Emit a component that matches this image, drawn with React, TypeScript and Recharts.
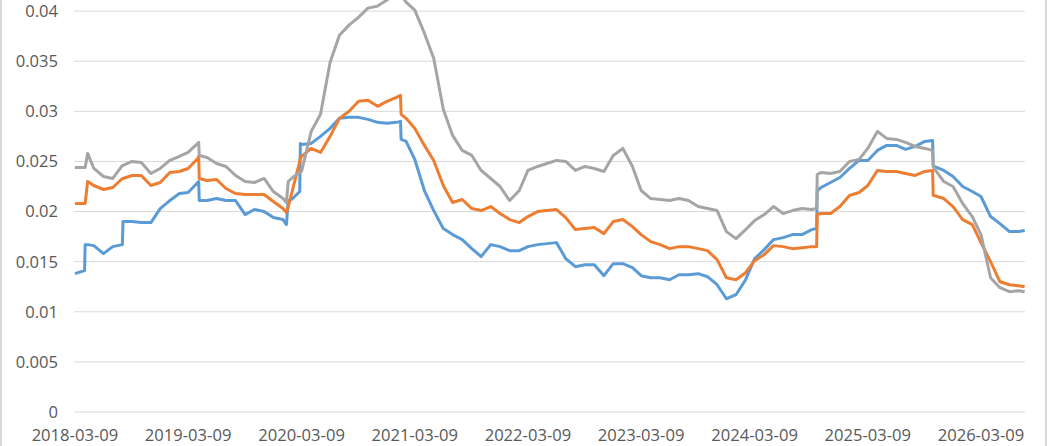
import React from "react";
import { LineChart, Line, XAxis, YAxis, CartesianGrid } from "recharts";

const dates: string[] = [
  "2018-03-09","2018-04-09","2018-04-11","2018-04-19","2018-05-09","2018-06-09","2018-07-09","2018-08-09","2018-08-11","2018-09-09","2018-10-09","2018-11-09","2018-12-09",
  "2019-01-09","2019-02-09","2019-03-09","2019-04-09","2019-04-12","2019-04-14","2019-05-09","2019-06-09","2019-07-09","2019-08-09","2019-09-09","2019-10-09","2019-11-09","2019-12-09",
  "2020-01-09","2020-01-20","2020-01-26","2020-02-09","2020-03-03","2020-03-05","2020-03-09","2020-04-09","2020-05-09","2020-06-09","2020-07-09","2020-08-09","2020-09-09","2020-10-09","2020-11-09","2020-12-09",
  "2021-01-09","2021-01-22","2021-01-24","2021-02-09","2021-03-09","2021-04-09","2021-05-09","2021-06-09","2021-07-09","2021-08-09","2021-09-09","2021-10-09","2021-11-09","2021-12-09",
  "2022-01-09","2022-02-09","2022-03-09","2022-04-09","2022-05-09","2022-06-09","2022-07-09","2022-08-09","2022-09-09","2022-10-09","2022-11-09","2022-12-09",
  "2023-01-09","2023-02-09","2023-03-09","2023-04-09","2023-05-09","2023-06-09","2023-07-09","2023-08-09","2023-09-09","2023-10-09","2023-11-09","2023-12-09",
  "2024-01-09","2024-02-09","2024-03-09","2024-04-09","2024-05-09","2024-06-09","2024-07-09","2024-08-09","2024-09-09","2024-09-25","2024-09-27","2024-10-09","2024-11-09","2024-12-09",
  "2025-01-09","2025-02-09","2025-03-09","2025-04-09","2025-05-09","2025-06-09","2025-07-09","2025-08-09","2025-09-09","2025-10-04","2025-10-06","2025-10-09","2025-11-09","2025-12-09",
  "2026-01-09","2026-02-09","2026-03-09","2026-04-09","2026-05-09","2026-06-09","2026-07-09","2026-07-28",
];

const blueSeries: number[] = [
  0.0138,0.0141,0.0167,0.0167,0.0166,0.0158,0.0165,0.0167,0.0190,0.0190,0.0189,0.0189,0.0203,
  0.0211,0.0218,0.0219,0.0229,0.0230,0.0211,0.0211,0.0213,0.0211,0.0211,0.0197,0.0202,0.0200,0.0194,
  0.0192,0.0187,0.0211,0.0213,0.0220,0.0268,0.0267,0.0268,0.0275,0.0283,0.0293,0.0294,0.0294,0.0292,0.0289,0.0288,
  0.0289,0.0290,0.0272,0.0270,0.0252,0.0221,0.0201,0.0183,0.0177,0.0172,0.0163,0.0155,0.0167,0.0165,
  0.0161,0.0161,0.0165,0.0167,0.0168,0.0169,0.0153,0.0145,0.0147,0.0147,0.0136,0.0148,
  0.0148,0.0144,0.0136,0.0134,0.0134,0.0132,0.0137,0.0137,0.0138,0.0135,0.0127,0.0113,
  0.0117,0.0132,0.0153,0.0162,0.0172,0.0174,0.0177,0.0177,0.0182,0.0183,0.0221,0.0224,0.0229,0.0234,
  0.0243,0.0251,0.0251,0.0261,0.0266,0.0266,0.0262,0.0265,0.0270,0.0271,0.0245,0.0245,0.0241,0.0235,
  0.0225,0.0220,0.0215,0.0195,0.0188,0.0180,0.0180,0.0181,
];

const orangeSeries: number[] = [
  0.0208,0.0208,0.0208,0.0230,0.0226,0.0222,0.0224,0.0233,0.0233,0.0236,0.0236,0.0226,0.0229,
  0.0239,0.0240,0.0243,0.0253,0.0255,0.0233,0.0231,0.0232,0.0223,0.0218,0.0217,0.0217,0.0217,0.0210,
  0.0203,0.0199,0.0205,0.0222,0.0250,0.0253,0.0255,0.0263,0.0259,0.0275,0.0293,0.0300,0.0310,0.0311,0.0305,0.0310,
  0.0314,0.0316,0.0297,0.0293,0.0283,0.0266,0.0251,0.0226,0.0209,0.0212,0.0203,0.0201,0.0205,0.0198,
  0.0192,0.0189,0.0195,0.0200,0.0201,0.0202,0.0194,0.0182,0.0183,0.0184,0.0178,0.0190,
  0.0192,0.0185,0.0177,0.0170,0.0167,0.0163,0.0165,0.0165,0.0163,0.0161,0.0152,0.0134,
  0.0132,0.0139,0.0151,0.0157,0.0166,0.0165,0.0163,0.0164,0.0165,0.0165,0.0197,0.0198,0.0198,0.0205,
  0.0216,0.0219,0.0226,0.0241,0.0240,0.0240,0.0238,0.0236,0.0240,0.0241,0.0216,0.0216,0.0213,0.0205,
  0.0192,0.0187,0.0169,0.0150,0.0130,0.0127,0.0126,0.0125,
];

const graySeries: number[] = [
  0.0244,0.0244,0.0244,0.0258,0.0243,0.0235,0.0233,0.0246,0.0246,0.0250,0.0249,0.0238,0.0243,
  0.0251,0.0255,0.0259,0.0268,0.0269,0.0256,0.0254,0.0248,0.0245,0.0236,0.0230,0.0229,0.0233,0.0220,
  0.0213,0.0209,0.0230,0.0234,0.0239,0.0240,0.0240,0.0280,0.0297,0.0349,0.0376,0.0386,0.0394,0.0403,0.0405,0.0411,
  0.0418,0.0418,0.0416,0.0409,0.0401,0.0378,0.0353,0.0302,0.0276,0.0261,0.0256,0.0241,0.0233,0.0225,
  0.0211,0.0221,0.0241,0.0245,0.0248,0.0251,0.0250,0.0241,0.0245,0.0243,0.0240,0.0256,
  0.0263,0.0245,0.0221,0.0213,0.0212,0.0211,0.0213,0.0211,0.0205,0.0203,0.0201,0.0180,
  0.0173,0.0182,0.0191,0.0197,0.0205,0.0198,0.0201,0.0203,0.0202,0.0203,0.0237,0.0239,0.0238,0.0240,
  0.0250,0.0252,0.0263,0.0280,0.0273,0.0272,0.0269,0.0265,0.0263,0.0261,0.0246,0.0243,0.0230,0.0225,
  0.0208,0.0195,0.0177,0.0134,0.0124,0.0120,0.0121,0.0120,
];

const xTickLabels: string[] = [
  "2018-03-09","2019-03-09","2020-03-09","2021-03-09","2022-03-09",
  "2023-03-09","2024-03-09","2025-03-09","2026-03-09",
];

const yTicks: number[] = [0, 0.005, 0.01, 0.015, 0.02, 0.025, 0.03, 0.035, 0.04];

const toTime = (s: string) => Date.parse(s + "T00:00:00Z");

const data = dates.map((d, i) => ({
  t: toTime(d),
  a: blueSeries[i],
  b: orangeSeries[i],
  c: graySeries[i],
}));

const xTicks = xTickLabels.map(toTime);
const xDomain = [toTime("2018-03-06"), toTime("2026-07-29")];

const fmtDate = (t: number) => new Date(t).toISOString().slice(0, 10);

const tickStyle = { fontFamily: "'Open Sans'", fontSize: 16.6, fill: "#595959" };

export default function App() {
  return (
    <div style={{ position: "absolute", left: 0, top: 0, width: 1048, height: 446, overflow: "hidden", background: "#fff" }}>
      <div
        style={{
          position: "absolute",
          left: 0,
          top: 0,
          width: 1043,
          height: 446,
          borderLeft: "2px solid #d9d9d9",
          borderRight: "2px solid #d9d9d9",
        }}
      />
      <div style={{ position: "absolute", left: 0, top: -50 }}>
        <LineChart width={1048} height={520} data={data} margin={{ top: 11, right: 23, bottom: 28, left: 14 }}>
          <CartesianGrid vertical={false} stroke="#d9d9d9" strokeWidth={1} />
          <XAxis
            dataKey="t"
            type="number"
            scale="time"
            domain={xDomain}
            ticks={xTicks}
            tickFormatter={fmtDate}
            axisLine={false}
            tickLine={false}
            tickMargin={11}
            height={30}
            interval={0}
            tick={tickStyle}
            allowDataOverflow
          />
          <YAxis
            type="number"
            domain={[0, 0.045]}
            ticks={yTicks}
            axisLine={false}
            tickLine={false}
            tickMargin={10}
            width={60}
            interval={0}
            tick={tickStyle}
          />
          <Line type="linear" dataKey="a" stroke="#5b9bd5" strokeWidth={3} dot={false} isAnimationActive={false} strokeLinejoin="round" />
          <Line type="linear" dataKey="b" stroke="#ed7d31" strokeWidth={3} dot={false} isAnimationActive={false} strokeLinejoin="round" />
          <Line type="linear" dataKey="c" stroke="#a5a5a5" strokeWidth={3} dot={false} isAnimationActive={false} strokeLinejoin="round" />
        </LineChart>
      </div>
    </div>
  );
}
